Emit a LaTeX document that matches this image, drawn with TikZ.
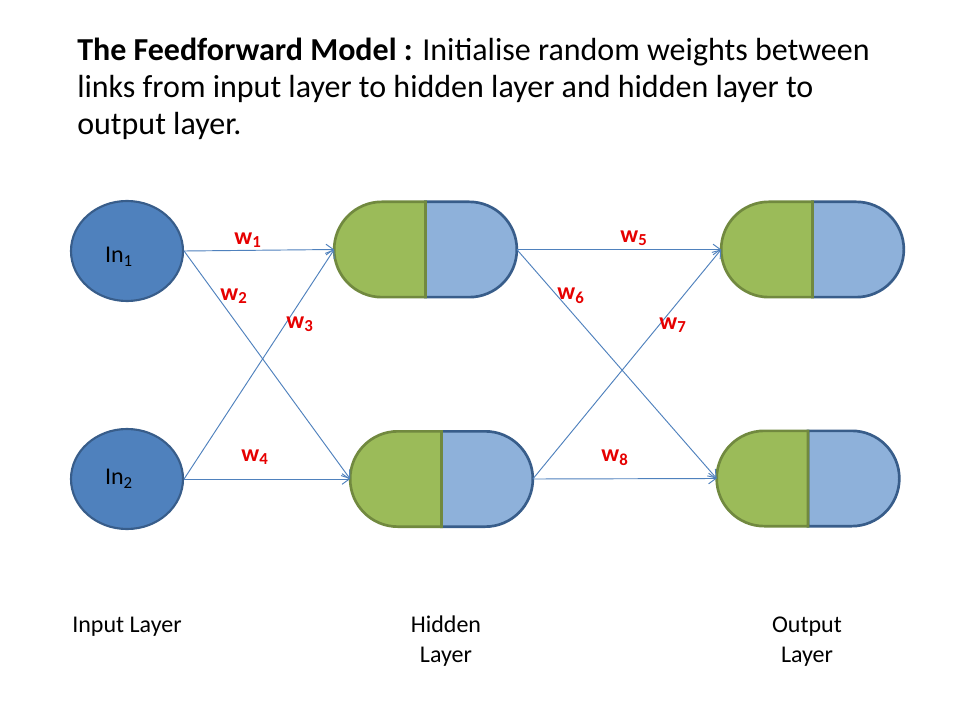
\documentclass[tikz,border=0pt]{standalone}
\usepackage{fontspec}
\setmainfont{Carlito}
\usetikzlibrary{shapes.geometric,arrows.meta}
\definecolor{inblue}{HTML}{4F81BD}
\definecolor{inborder}{HTML}{385D8A}
\definecolor{hgreen}{HTML}{9BBB59}
\definecolor{hgreenb}{HTML}{71893F}
\definecolor{hblue}{HTML}{8EB1DA}
\definecolor{wred}{HTML}{E60000}
\tikzset{
  inneuron/.style={ellipse, draw=inborder, fill=inblue, line width=1.6pt, minimum width=84pt, minimum height=75pt, inner sep=0pt},
  capsule/.style={rectangle, inner sep=0pt, outer sep=0pt, minimum width=137pt, minimum height=71.5pt},
  lhalf/.style={draw=hgreenb, fill=hgreen, line width=2pt},
  rhalf/.style={draw=inborder, fill=hblue, line width=2pt},
  link/.style={draw=inblue, line width=0.7pt, -{Straight Barb[length=5.5pt,width=8pt]}},
  wlabel/.style={text=wred, font=\fontsize{18}{21}\selectfont\bfseries, inner sep=0pt},
  layerlabel/.style={font=\fontsize{18}{22.5}\selectfont, align=center, inner sep=0pt, anchor=base},
  titleline/.style={font=\fontsize{24}{29}\selectfont, anchor=base west, inner sep=0pt},
  nlabel/.style={font=\fontsize{18}{22}\selectfont, inner sep=0pt}
}
\newcommand\drawcapsule[1]{%
  \draw[rhalf] (#1.north) [rounded corners=35.7pt] -- (#1.north east) -- (#1.south east) [sharp corners] -- (#1.south) -- cycle;
  \draw[lhalf] (#1.north) [rounded corners=35.7pt] -- (#1.north west) -- (#1.south west) [sharp corners] -- (#1.south) -- cycle;}
\begin{document}
\begin{tikzpicture}[x=0.75pt, y=-0.75pt]
\fill[white] (0,0) rectangle (960,720);
\useasboundingbox (0,0) rectangle (960,720);

% title
\node[titleline] (t1) at (77,61) {\textbf{The Feedforward Model :} Initialise random weights between};
\node[titleline] (t2) at (77,98) {links from input layer to hidden layer and hidden layer to};
\node[titleline] (t3) at (77,135) {output layer.};

% input neurons
\node[inneuron] (in1) at (127,251) {};
\node[inneuron] (in2) at (127,479) {};
\node[nlabel] (in1t) at (119,257) {In\textsubscript{1}};
\node[nlabel] (in2t) at (119,479) {In\textsubscript{2}};

% hidden and output neurons
\node[capsule] (h1) at (425.5,249.5) {};
\node[capsule] (h2) at (441.5,479) {};
\node[capsule] (o1) at (812.5,249.5) {};
\node[capsule] (o2) at (808,478.5) {};
\drawcapsule{h1}
\drawcapsule{h2}
\drawcapsule{o1}
\drawcapsule{o2}

% links
\draw[link] (in1.east) -- (h1.west);
\draw[link] (in1.east) -- (h2.west);
\draw[link] (in2.east) -- (h1.west);
\draw[link] (in2.east) -- (h2.west);
\draw[link] (h1.east) -- (o1.west);
\draw[link] (h1.east) -- (o2.west);
\draw[link] (h2.east) -- (o1.west);
\draw[link] (h2.east) -- (o2.west);

% weights
\node[wlabel] (w1) at (248,240) {w\textsubscript{1}};
\node[wlabel] (w2) at (234,296) {w\textsubscript{2}};
\node[wlabel] (w3) at (300,324) {w\textsubscript{3}};
\node[wlabel] (w4) at (255,457) {w\textsubscript{4}};
\node[wlabel] (w5) at (634,238) {w\textsubscript{5}};
\node[wlabel] (w6) at (571,296) {w\textsubscript{6}};
\node[wlabel] (w7) at (673,325) {w\textsubscript{7}};
\node[wlabel] (w8) at (615,458) {w\textsubscript{8}};

% layer labels
\node[layerlabel] (linput) at (127,632) {Input Layer};
\node[layerlabel] (lhidden) at (446,662) {Hidden\\Layer};
\node[layerlabel] (loutput) at (807,662) {Output\\Layer};
\end{tikzpicture}
\end{document}
